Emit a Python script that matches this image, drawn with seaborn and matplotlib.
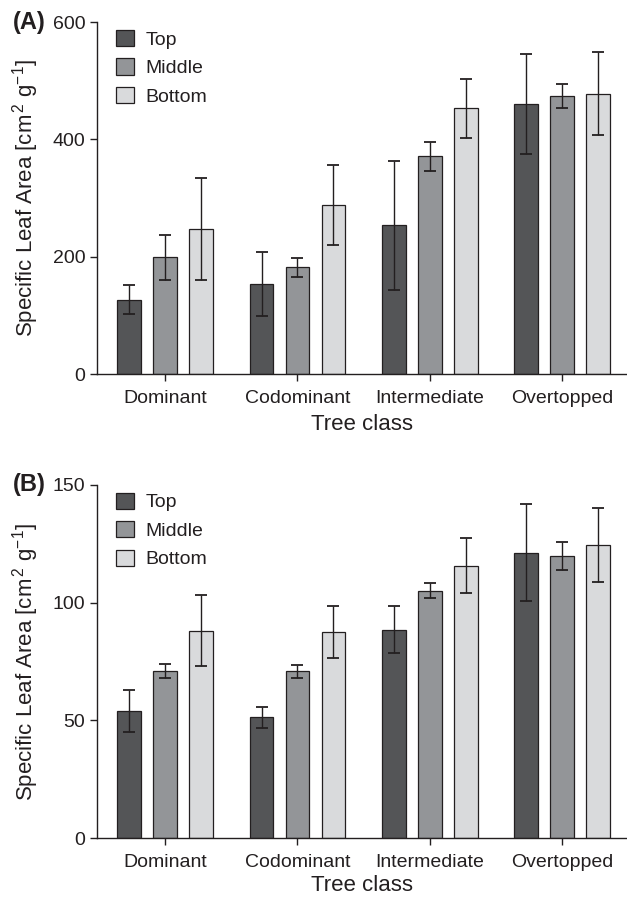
import numpy as np
import pandas as pd
import matplotlib
matplotlib.use("Agg")
import matplotlib.pyplot as plt
import seaborn as sns

# Tree crown classes and canopy positions
classes = ["Dominant", "Codominant", "Intermediate", "Overtopped"]
positions = ["Top", "Middle", "Bottom"]

# Panel A: specific leaf area (mean and error) per canopy position
sla_a_top = [127, 154, 254, 460]
sla_a_mid = [199, 182, 371, 474]
sla_a_bot = [247, 289, 453, 478]
err_a_top = [25, 54, 110, 85]
err_a_mid = [39, 16, 24, 21]
err_a_bot = [87, 68, 50, 71]

# Panel B
sla_b_top = [54.1, 51.3, 88.5, 121.2]
sla_b_mid = [71.1, 70.8, 105.1, 119.9]
sla_b_bot = [88.1, 87.7, 115.7, 124.4]
err_b_top = [8.8, 4.3, 10.0, 20.7]
err_b_mid = [3.0, 2.7, 3.3, 6.0]
err_b_bot = [15.0, 11.0, 11.5, 15.6]

yticks_a = [0, 200, 400, 600]
yticks_b = [0, 50, 100, 150]

palette = {"Top": "#545557", "Middle": "#939598", "Bottom": "#d9dadc"}
ink = "#231f20"

sns.set_theme(style="ticks")
plt.rcParams["font.family"] = ["Liberation Sans", "DejaVu Sans"]
plt.rcParams["mathtext.fontset"] = "custom"
plt.rcParams["mathtext.rm"] = "Liberation Sans"
plt.rcParams["mathtext.it"] = "Liberation Sans"
plt.rcParams["mathtext.default"] = "regular"


def build_frame(means, errs):
    rows = []
    for pos, m, e in zip(positions, means, errs):
        for cls, v, s in zip(classes, m, e):
            rows.append({"Tree class": cls, "Position": pos, "SLA": v, "err": s})
    return pd.DataFrame(rows)


def draw_panel(ax, df, yticks, tag, xpad):
    sns.barplot(data=df, x="Tree class", y="SLA", hue="Position",
                order=classes, hue_order=positions, palette=palette,
                errorbar=None, width=0.816, gap=0.34,
                edgecolor=ink, linewidth=0.9, saturation=1, ax=ax)
    # error bars placed at the centres of the drawn bars
    for container, pos in zip(ax.containers, positions):
        sub = df[df["Position"] == pos].set_index("Tree class").loc[classes]
        xs = [b.get_x() + b.get_width() / 2 for b in container]
        ax.errorbar(xs, sub["SLA"].values, yerr=sub["err"].values, fmt="none",
                    ecolor=ink, elinewidth=1.0, capsize=4.3, capthick=1.3, zorder=5)
    ax.set_ylim(yticks[0], yticks[-1])
    ax.set_yticks(yticks)
    ax.set_xlim(-0.516, 3.49)
    ax.set_xlabel("Tree class", fontsize=16, color=ink, labelpad=xpad)
    ax.set_ylabel(r"Specific Leaf Area [cm$^{\,2}$ g$^{-1}$]", fontsize=16,
                  color=ink, labelpad=8)
    ax.tick_params(axis="both", labelsize=14, colors=ink, length=5, width=1,
                   direction="out")
    ax.tick_params(axis="x", pad=6)
    for side in ["left", "bottom"]:
        ax.spines[side].set_color(ink)
        ax.spines[side].set_linewidth(1)
    sns.despine(ax=ax)
    handles, labels = ax.get_legend_handles_labels()
    ax.legend(handles, labels, loc="upper left", frameon=False, fontsize=14,
              handlelength=0.9, handleheight=0.9, handletextpad=0.6,
              labelspacing=0.5, borderaxespad=0.1,
              bbox_to_anchor=(0.018, 1.005), labelcolor=ink)
    ax.text(-0.158, 1.0, tag, transform=ax.transAxes, fontsize=17,
            fontweight="bold", color=ink, ha="left", va="center")


fig = plt.figure(figsize=(6.27, 8.98), dpi=100)
ax_a = fig.add_axes([0.1547, 0.5832, 0.845, 0.3923])
ax_b = fig.add_axes([0.1547, 0.0665, 0.845, 0.3937])

df_a = build_frame([sla_a_top, sla_a_mid, sla_a_bot], [err_a_top, err_a_mid, err_a_bot])
df_b = build_frame([sla_b_top, sla_b_mid, sla_b_bot], [err_b_top, err_b_mid, err_b_bot])

draw_panel(ax_a, df_a, yticks_a, "(A)", 5)
draw_panel(ax_b, df_b, yticks_b, "(B)", 3)

fig.savefig("out.png", dpi=100)
